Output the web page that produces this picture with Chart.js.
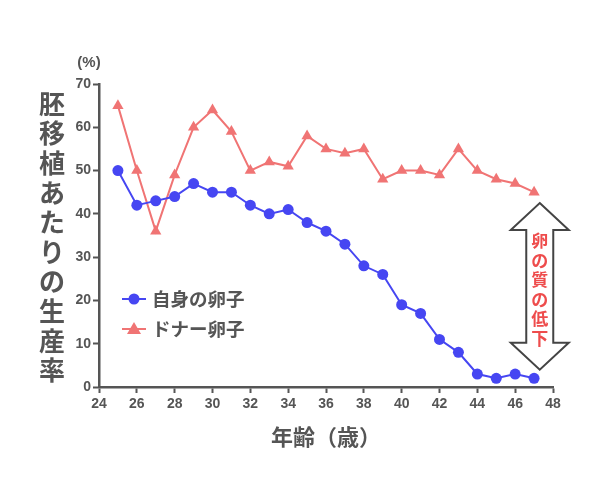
<!DOCTYPE html>
<html>
<head>
<meta charset="utf-8">
<script src="https://cdn.jsdelivr.net/npm/chart.js@4"></script>
<style>
body{margin:0;background:#fff;}
</style>
</head>
<body>
<canvas id="c" width="600" height="500"></canvas>
<script>
const ages = [25,26,27,28,29,30,31,32,33,34,35,36,37,38,39,40,41,42,43,44,45,46,47];
const ownEggs = [50,42,43,44,47,45,45,42,40,41,38,36,33,28,26,19,17,11,8,3,2,3,2];
const donorEggs = [65,50,36,49,60,64,59,50,52,51,58,55,54,55,48,50,50,49,55,50,48,47,45];
const seriesNames = ["自身の卵子","ドナー卵子"];
const yTitle = "胚移植あたりの生産率";
const xTitle = "年齢（歳）";
const arrowText = "卵の質の低下";

const BLUE = "#4646f2";
const RED = "#f07474";
const GREY = "#555555";
const JP = "'Noto Sans CJK JP', sans-serif";
const NUM = "'Liberation Sans', Arial, sans-serif";

const extras = {
id:"extras",
afterDraw(chart){
const ctx = chart.ctx;
const xs = chart.scales.x;
const ys = chart.scales.y;
ctx.save();

// y title, stacked vertical
ctx.fillStyle = GREY;
ctx.font = "bold 26px " + JP;
ctx.textAlign = "center";
ctx.textBaseline = "middle";
for(let i=0;i<yTitle.length;i++){
ctx.fillText(yTitle[i], 52, 104 + i*29.6);
}

// (%) label
ctx.font = "bold 15px " + NUM;
ctx.fillText("(%)", 89, 63);

// x title
ctx.font = "bold 22px " + JP;
ctx.fillText(xTitle, (xs.left+xs.right)/2, 437);

// legend
const lx = 123;
const ly = [299, 329];
ctx.lineWidth = 2;
ctx.strokeStyle = BLUE;
ctx.beginPath();
ctx.moveTo(lx-1, ly[0]); ctx.lineTo(lx+23, ly[0]);
ctx.stroke();
ctx.fillStyle = BLUE;
ctx.beginPath();
ctx.arc(lx+11, ly[0], 5.5, 0, Math.PI*2);
ctx.fill();
ctx.strokeStyle = RED;
ctx.beginPath();
ctx.moveTo(lx-1, ly[1]); ctx.lineTo(lx+23, ly[1]);
ctx.stroke();
ctx.fillStyle = RED;
ctx.beginPath();
ctx.moveTo(lx+11, ly[1]-7);
ctx.lineTo(lx+18, ly[1]+5);
ctx.lineTo(lx+4, ly[1]+5);
ctx.closePath();
ctx.fill();
ctx.fillStyle = GREY;
ctx.font = "bold 18.5px " + JP;
ctx.textAlign = "left";
ctx.fillText(seriesNames[0], lx+29, ly[0]);
ctx.fillText(seriesNames[1], lx+29, ly[1]);

// double arrow
const cx = xs.getPixelForValue(47.3);
const top = ys.getPixelForValue(42.5);
const bot = ys.getPixelForValue(4);
const hw = 29, sw = 13.5, hh = 27;
ctx.beginPath();
ctx.moveTo(cx, top);
ctx.lineTo(cx+hw, top+hh);
ctx.lineTo(cx+sw, top+hh);
ctx.lineTo(cx+sw, bot-hh);
ctx.lineTo(cx+hw, bot-hh);
ctx.lineTo(cx, bot);
ctx.lineTo(cx-hw, bot-hh);
ctx.lineTo(cx-sw, bot-hh);
ctx.lineTo(cx-sw, top+hh);
ctx.lineTo(cx-hw, top+hh);
ctx.closePath();
ctx.fillStyle = "#fff";
ctx.fill();
ctx.strokeStyle = "#444";
ctx.lineWidth = 2;
ctx.stroke();

ctx.fillStyle = "#ee4c4c";
ctx.font = "bold 17px " + JP;
ctx.textAlign = "center";
const step = 19.5;
const mid = (top+bot)/2 + 3;
for(let i=0;i<arrowText.length;i++){
ctx.fillText(arrowText[i], cx, mid + (i-(arrowText.length-1)/2)*step);
}

ctx.restore();
}
};

new Chart(
document.getElementById("c"),
{
type:"line",
data:{
labels:ages,
datasets:[
{
label:seriesNames[0],
data:ages.map((a,i)=>({x:a,y:ownEggs[i]})),
borderColor:BLUE,
backgroundColor:BLUE,
borderWidth:2,
pointStyle:"circle",
pointRadius:5.5,
pointBorderWidth:0,
tension:0
},
{
label:seriesNames[1],
data:ages.map((a,i)=>({x:a,y:donorEggs[i]})),
borderColor:RED,
backgroundColor:RED,
borderWidth:2,
pointStyle:"triangle",
pointRadius:6.5,
pointBorderWidth:0,
tension:0
}
]
},
options:{
responsive:false,
animation:false,
layout:{padding:{left:0,right:47,top:84,bottom:0}},
plugins:{
legend:{display:false},
tooltip:{enabled:false}
},
scales:{
x:{
type:"linear",
min:24,
max:48,
ticks:{stepSize:2,color:GREY,font:{family:NUM,size:14,weight:"bold"},padding:3},
grid:{drawOnChartArea:false,tickLength:6,tickColor:GREY,tickWidth:2},
border:{color:GREY,width:2.5},
afterFit(s){ s.height = 113; }
},
y:{
min:0,
max:70,
ticks:{stepSize:10,color:GREY,font:{family:NUM,size:14,weight:"bold"},padding:2},
grid:{drawOnChartArea:false,tickLength:6,tickColor:GREY,tickWidth:2},
border:{color:GREY,width:2.5},
afterFit(s){ s.width = 99; }
}
}
},
plugins:[extras]
}
);
</script>
</body>
</html>
